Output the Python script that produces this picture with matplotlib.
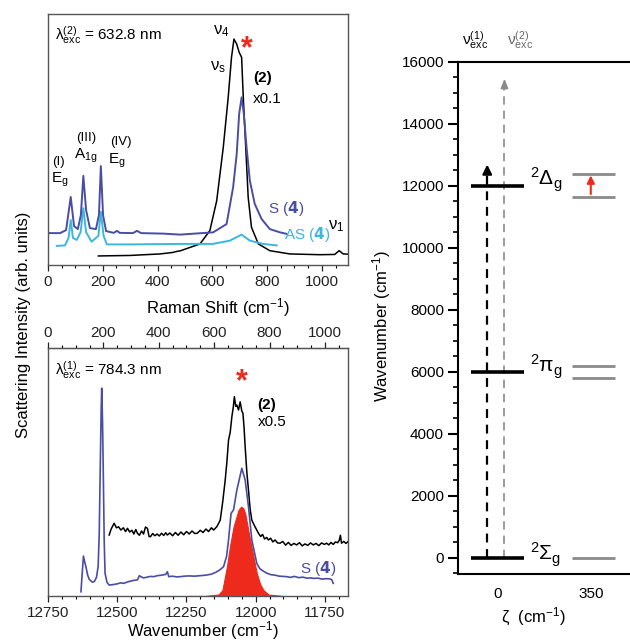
import matplotlib
matplotlib.use("Agg")
import matplotlib.pyplot as plt
from matplotlib.ticker import MultipleLocator, FixedLocator

plt.rcParams['font.family'] = ['Liberation Sans', 'DejaVu Sans']
plt.rcParams['mathtext.default'] = 'regular'
plt.rcParams['font.size'] = 11

#%% Data - top panel (exc. 632.8 nm), x = Raman shift (cm-1)
s4_top_x = [7, 44, 66, 83, 95, 109, 120, 129, 139, 153, 175, 186, 193, 201, 212, 240, 252, 262,
            310, 325, 340, 420, 482, 603, 652, 676, 689, 698, 707, 715, 725, 737, 755, 780, 810, 847, 871]
s4_top_y = [12.7, 12.7, 13.9, 27.1, 15.5, 14.3, 19.9, 35.5, 21.9, 14.7, 14.3, 19.9, 39.4, 19.9, 13.5, 12.8, 13.6, 12.8,
            12.7, 13.6, 12.7, 12.5, 12.1, 13.0, 16.3, 31.0, 44.2, 60.2, 66.8, 60.2, 46.9, 33.6, 24.3, 18.3, 14.3, 13.0, 12.4]

as4_top_x = [32, 62, 75, 83, 91, 105, 119, 129, 139, 159, 184, 193, 203, 215, 300, 482, 602, 664, 707, 737, 785, 835]
as4_top_y = [7.6, 7.8, 10.8, 17.9, 10.8, 10.0, 13.1, 22.6, 13.1, 9.3, 11.6, 21.2, 11.6, 8.2, 8.2, 8.4, 8.4, 9.7, 12.1, 9.7, 8.4, 7.8]

c2_top_x = [184, 299, 409, 456, 470, 482, 555, 591, 616, 640, 658, 670, 679, 689, 698, 707, 713, 722, 731,
            743, 768, 810, 883, 993, 1047, 1063, 1078, 1102]
c2_top_y = [3.6, 3.8, 4.4, 5.0, 5.4, 5.6, 8.4, 13.7, 25.6, 46.9, 66.8, 82.7, 90.0, 88.0, 84.7, 82.7, 66.8, 46.9, 26.9,
            15.0, 8.4, 5.7, 4.4, 4.1, 4.2, 5.7, 4.4, 4.3]

#%% Data - bottom panel (exc. 784.3 nm), x = wavenumber (cm-1)
s4_bot_x = [12631, 12626, 12622, 12617, 12613, 12607, 12601, 12590, 12583, 12575, 12569, 12565, 12562, 12558,
            12556, 12553, 12550, 12547, 12544, 12537, 12529, 12515, 12500, 12488, 12476, 12465, 12452, 12440,
            12427, 12420, 12415, 12405, 12392, 12380, 12368, 12355, 12340, 12325, 12319, 12314, 12300, 12286,
            12272, 12258, 12240, 12220, 12200, 12180, 12160, 12145, 12130, 12116, 12105, 12098, 12089, 12080,
            12068, 12050, 12038, 12026, 12014, 11996, 11985, 11972, 11960, 11945, 11930, 11915, 11900, 11888,
            11875, 11860, 11845, 11830, 11815, 11800, 11792, 11775, 11760, 11745, 11732, 11725, 11720]
s4_bot_y = [1.7, 10.0, 16.1, 13.5, 11.8, 8.5, 6.7, 5.6, 5.8, 7.5, 11.8, 25.0, 46.8, 75.0,
            83.8, 70.0, 46.8, 22.0, 9.2, 5.5, 4.4, 4.6, 4.9, 5.3, 5.1, 5.6, 6.0, 6.3,
            6.5, 8.2, 7.8, 7.3, 7.6, 7.9, 7.8, 8.2, 8.4, 8.7, 9.8, 7.8, 8.0, 7.7,
            7.8, 8.0, 8.1, 8.0, 8.2, 8.4, 8.8, 9.5, 10.5, 11.8, 16.0, 22.6, 33.3, 34.7,
            42.7, 51.5, 46.8, 36.0, 22.6, 13.2, 11.0, 10.0, 9.2, 8.6, 8.4, 8.0, 7.9, 7.8,
            7.5, 7.9, 7.4, 7.6, 7.2, 7.3, 7.1, 7.2, 6.8, 7.0, 6.9, 6.5, 5.1]

c2_bot_x = [12529, 12522, 12515, 12511, 12503, 12495, 12487, 12478, 12470, 12463, 12455, 12447, 12440, 12433,
            12427, 12420, 12412, 12405, 12398, 12391, 12385, 12380, 12372, 12364, 12356, 12348, 12340, 12332,
            12325, 12319, 12310, 12300, 12290, 12280, 12270, 12260, 12250, 12240, 12230, 12220, 12211, 12200,
            12190, 12180, 12170, 12160, 12152, 12140, 12128, 12119, 12110, 12104, 12098, 12092, 12086, 12081,
            12077, 12072, 12068, 12062, 12056, 12050, 12046, 12042, 12038, 12032, 12026, 12020, 12014, 12005,
            11998, 11990, 11982, 11975, 11968, 11960, 11954, 11946, 11938, 11930, 11921, 11912, 11902, 11892,
            11882, 11872, 11862, 11852, 11842, 11832, 11822, 11812, 11802, 11792, 11782, 11772, 11762, 11752,
            11744, 11736, 11728, 11720, 11712, 11704, 11698, 11694, 11690, 11682, 11674, 11666, 11660]
c2_bot_y = [24.6, 27.0, 28.5, 29.3, 27.5, 27.9, 26.6, 27.5, 26.0, 27.3, 25.8, 26.5, 25.0, 26.8,
            25.3, 24.5, 26.2, 25.0, 27.8, 27.3, 24.0, 23.9, 25.2, 24.3, 25.0, 24.2, 25.3, 24.4,
            25.5, 24.6, 25.4, 24.3, 25.6, 24.5, 25.8, 24.7, 26.0, 25.0, 26.2, 25.2, 25.3, 26.5,
            25.6, 27.0, 26.0, 27.5, 26.6, 28.0, 30.6, 38.0, 46.8, 54.0, 62.9, 66.0, 72.3, 76.0,
            80.4, 76.5, 77.0, 75.0, 78.3, 74.5, 73.7, 68.0, 60.2, 50.0, 42.7, 35.0, 30.6, 28.5,
            27.0, 25.3, 24.0, 24.8, 23.0, 23.6, 22.6, 23.3, 21.8, 22.6, 21.4, 21.3, 22.0, 20.5,
            21.6, 20.4, 21.2, 20.6, 21.5, 20.2, 21.0, 20.4, 21.4, 20.6, 21.2, 20.3, 21.4, 20.8,
            21.3, 20.6, 21.6, 20.8, 21.8, 21.5, 22.5, 24.5, 21.3, 22.0, 21.2, 22.0, 21.3]

fit_x = [12246, 12182, 12134, 12120, 12104, 12092, 12080, 12062, 12053, 12045, 12038, 12020, 12007,
         11996, 11984, 11972, 11954, 11901]
fit_y = [0, 0, 0.6, 2.4, 11.8, 20.6, 27.9, 34.7, 36.0, 35.5, 33.3, 22.6, 15.3,
         9.2, 4.8, 2.4, 0.6, 0]

#%% Data - energy level diagram
lev_left = [0, 6000, 12000]
lev_right = [0, 5800, 6200, 11650, 12400]
lev_names = [r'$^2\Sigma_g$', r'$^2\pi_g$', r'$^2\Delta_g$']

BLUE = '#4a4da6'
CYAN = '#3bb6dc'
RED = '#ee2a1c'
GREY = '#8a8a8a'

fig = plt.figure(figsize=(6.3, 6.41), dpi=100)

#%% Top left: 632.8 nm
ax1 = fig.add_axes([0.0762, 0.5866, 0.476, 0.3916])
ax1.plot(c2_top_x, c2_top_y, color='black', lw=1.1)
ax1.plot(as4_top_x, as4_top_y, color=CYAN, lw=1.4)
ax1.plot(s4_top_x, s4_top_y, color=BLUE, lw=1.4)
ax1.set_xlim(0, 1095)
ax1.set_ylim(0, 100)
ax1.set_yticks([])
ax1.xaxis.set_major_locator(MultipleLocator(200))
ax1.xaxis.set_minor_locator(MultipleLocator(50))
ax1.tick_params(axis='x', direction='out', length=4, width=0.9, pad=3, labelsize=11, colors='#222222')
ax1.tick_params(axis='x', which='minor', length=2.5, width=0.8)
ax1.set_xlabel(r'Raman Shift (cm$^{-1}$)', fontsize=12)
ax1.xaxis.set_label_coords(0.567, -0.125)

ax1.text(25, 91.5, r'$\lambda^{(2)}_{exc}$ = 632.8 nm', fontsize=11, va='center')
ax1.text(664, 93, r'$\nu_4$', fontsize=12, ha='right', va='center')
ax1.text(620, 79, r'$\nu_s$', fontsize=12, ha='center', va='center')
ax1.text(725, 86, '*', color=RED, fontsize=22, ha='center', va='center', fontweight='bold')
ax1.text(783, 74.5, '(2)', fontsize=11, ha='center', va='center', fontweight='bold')
ax1.text(801, 66, 'x0.1', fontsize=11, ha='center', va='center')
ax1.text(37, 41, '(I)', fontsize=9.5, ha='center', va='center')
ax1.text(42, 34, r'$E_g$', fontsize=11, ha='center', va='center')
ax1.text(141, 50.5, '(III)', fontsize=9.5, ha='center', va='center')
ax1.text(139, 43.5, r'$A_{1g}$', fontsize=11, ha='center', va='center')
ax1.text(266, 49, '(IV)', fontsize=9.5, ha='center', va='center')
ax1.text(252, 41.5, r'$E_g$', fontsize=11, ha='center', va='center')
ax1.text(868, 22.7, r'S ($\mathbf{4}$)', color=BLUE, fontsize=11, ha='center', va='center')
ax1.text(947, 12, r'AS ($\mathbf{4}$)', color=CYAN, fontsize=11, ha='center', va='center')
ax1.text(1051, 15.5, r'$\nu_1$', fontsize=12, ha='center', va='center')

#%% Bottom left: 784.3 nm
ax2 = fig.add_axes([0.0762, 0.0702, 0.476, 0.3869])
ax2.fill_between(fit_x, fit_y, 0, color=RED, lw=0.8)
ax2.plot(c2_bot_x, c2_bot_y, color='black', lw=1.1)
ax2.plot(s4_bot_x, s4_bot_y, color=BLUE, lw=1.2)
ax2.set_xlim(12750, 11667)
ax2.set_ylim(0, 100)
ax2.set_yticks([])
ax2.xaxis.set_major_locator(FixedLocator([12750, 12500, 12250, 12000, 11750]))
ax2.xaxis.set_minor_locator(MultipleLocator(50))
ax2.tick_params(axis='x', direction='out', length=4, width=0.9, pad=3, labelsize=11, colors='#222222')
ax2.tick_params(axis='x', which='minor', length=2.5, width=0.8)
ax2.set_xlabel(r'Wavenumber (cm$^{-1}$)', fontsize=12)
ax2.xaxis.set_label_coords(0.517, -0.095)

secx = ax2.secondary_xaxis('top', functions=(lambda w: 12750 - w, lambda r: 12750 - r))
secx.xaxis.set_major_locator(FixedLocator([0, 200, 400, 600, 800, 1000]))
secx.xaxis.set_minor_locator(MultipleLocator(50))
secx.tick_params(axis='x', direction='out', length=4, width=0.9, pad=2, labelsize=11, colors='#222222')
secx.tick_params(axis='x', which='minor', length=2.5, width=0.8)

ax2.text(12725, 91, r'$\lambda^{(1)}_{exc}$ = 784.3 nm', fontsize=11, va='center')
ax2.text(12050, 86, '*', color=RED, fontsize=22, ha='center', va='center', fontweight='bold')
ax2.text(11962, 77, '(2)', fontsize=11, ha='center', va='center', fontweight='bold')
ax2.text(11941, 70, 'x0.5', fontsize=11, ha='center', va='center')
ax2.text(11775, 10.9, r'S ($\mathbf{4}$)', color=BLUE, fontsize=11, ha='center', va='center')

for a in (ax1, ax2):
    for sp in a.spines.values():
        sp.set_color('#555555')
        sp.set_linewidth(1.0)

fig.text(0.037, 0.493, 'Scattering Intensity (arb. units)', rotation=90, fontsize=12,
         ha='center', va='center')

#%% Right: energy levels
ax3 = fig.add_axes([0.727, 0.1045, 0.274, 0.7988])
ax3.set_xlim(-150, 500)
ax3.set_ylim(-520, 16000)

ax3.plot([-40, -40], [0, 12400], color='black', lw=1.6, ls=(0, (4, 3)))
ax3.annotate('', xy=(-40, 12780), xytext=(-40, 12380),
             arrowprops=dict(arrowstyle='-|>,head_width=0.25,head_length=0.5', color='black', lw=1.6))
ax3.plot([25, 25], [0, 15300], color=GREY, lw=1.2, ls=(0, (5, 3.5)))
ax3.annotate('', xy=(25, 15550), xytext=(25, 15200),
             arrowprops=dict(arrowstyle='-|>,head_width=0.2,head_length=0.5', color=GREY, lw=1.2))

for lv in lev_left:
    ax3.plot([-100, 100], [lv, lv], color='black', lw=2.6, solid_capstyle='butt')
for lv in lev_right:
    ax3.plot([280, 440], [lv, lv], color=GREY, lw=2.0, solid_capstyle='butt')
ax3.annotate('', xy=(350, 12430), xytext=(350, 11650),
             arrowprops=dict(arrowstyle='-|>,head_width=0.2,head_length=0.4', color=RED, lw=1.5))

for lv, nm, dy in zip(lev_left, lev_names, [100, 150, 190]):
    ax3.text(120, lv + dy, nm, fontsize=15, ha='left', va='center')

ax3.text(-85, 1.043, r'$\nu^{(1)}_{exc}$', transform=ax3.get_xaxis_transform(),
         fontsize=11, ha='center', va='center', color='black')
ax3.text(85, 1.043, r'$\nu^{(2)}_{exc}$', transform=ax3.get_xaxis_transform(),
         fontsize=11, ha='center', va='center', color='#666666')

ax3.yaxis.set_major_locator(MultipleLocator(2000))
ax3.yaxis.set_minor_locator(MultipleLocator(500))
ax3.tick_params(axis='y', direction='out', length=7, width=1.5, pad=3, labelsize=11)
ax3.tick_params(axis='y', which='minor', length=3.5, width=1.2)
ax3.set_xticks([0, 350])
ax3.tick_params(axis='x', length=0, pad=9, labelsize=11)
ax3.spines['right'].set_visible(False)
for s in ('left', 'top', 'bottom'):
    ax3.spines[s].set_linewidth(1.5)
ax3.set_ylabel(r'Wavenumber (cm$^{-1}$)', fontsize=12)
ax3.yaxis.set_label_coords(-0.378, 0.484)
ax3.set_xlabel(r'$\zeta$  (cm$^{-1}$)', fontsize=12)
ax3.xaxis.set_label_coords(0.436, -0.062)

fig.savefig('out.png', dpi=100)
